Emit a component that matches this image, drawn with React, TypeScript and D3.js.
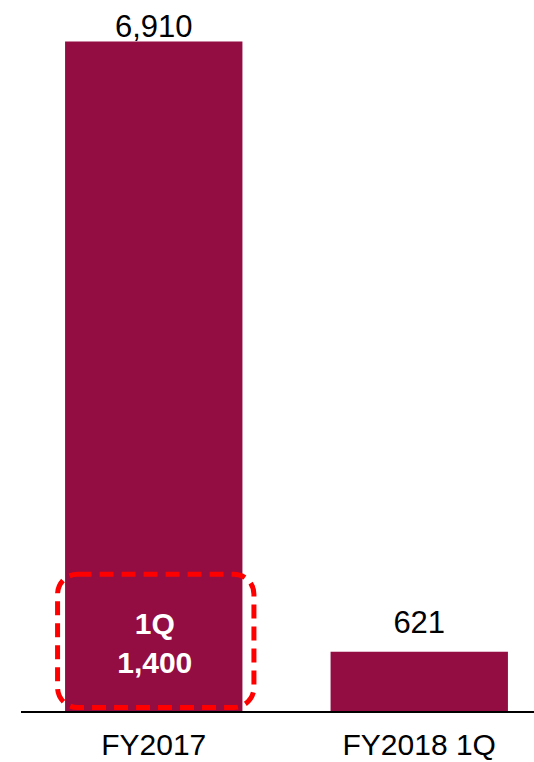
import React from "react";
import * as d3 from "d3";

const categories = ["FY2017", "FY2018 1Q"];
const values = [6910, 621];
const highlightLabel = "1Q";
const highlightValue = 1400;

const W = 534;
const H = 762;
const BAR = "#930C42";
const FONT = "'Liberation Sans', Arial, sans-serif";
const fmt = d3.format(",");

export default function App() {
  const x = d3
    .scaleBand<string>()
    .domain(categories)
    .range([21, 552])
    .paddingInner(0.332)
    .paddingOuter(0.166);
  const y = d3.scaleLinear().domain([0, 6910]).range([712, 41.5]);
  const bw = x.bandwidth();
  const x0 = x(categories[0]) as number;
  const hTop = y(highlightValue);
  const hMid = (hTop + y(0)) / 2;

  return (
    <svg
      width={W}
      height={H}
      style={{ position: "absolute", left: 0, top: 0, background: "#fff" }}
    >
      {categories.map((c, i) => (
        <g key={c}>
          <rect
            x={x(c)}
            y={y(values[i])}
            width={bw}
            height={y(0) - y(values[i])}
            fill={BAR}
          />
          <text
            x={(x(c) as number) + bw / 2}
            y={Math.max(y(values[i]) - 19, 37)}
            textAnchor="middle"
            fontFamily={FONT}
            fontSize={31}
            fill="#000"
          >
            {fmt(values[i])}
          </text>
          <text
            x={(x(c) as number) + bw / 2}
            y={755}
            textAnchor="middle"
            fontFamily={FONT}
            fontSize={30}
            fill="#000"
          >
            {c}
          </text>
        </g>
      ))}
      <line x1={21} x2={W} y1={712} y2={712} stroke="#000" strokeWidth={2} />
      <rect
        x={x0 - 7.5}
        y={hTop - 2}
        width={bw + 19}
        height={y(0) - 4.5 - (hTop - 2)}
        rx={20}
        ry={20}
        fill="none"
        stroke="#FF0000"
        strokeWidth={5}
        strokeDasharray="14 8"
      />
      <text
        x={x0 + bw / 2 + 1}
        y={hMid - 10}
        textAnchor="middle"
        fontFamily={FONT}
        fontSize={30}
        fontWeight="bold"
        fill="#fff"
      >
        {highlightLabel}
      </text>
      <text
        x={x0 + bw / 2 + 1}
        y={hMid + 28.5}
        textAnchor="middle"
        fontFamily={FONT}
        fontSize={30}
        fontWeight="bold"
        fill="#fff"
      >
        {fmt(highlightValue)}
      </text>
    </svg>
  );
}
